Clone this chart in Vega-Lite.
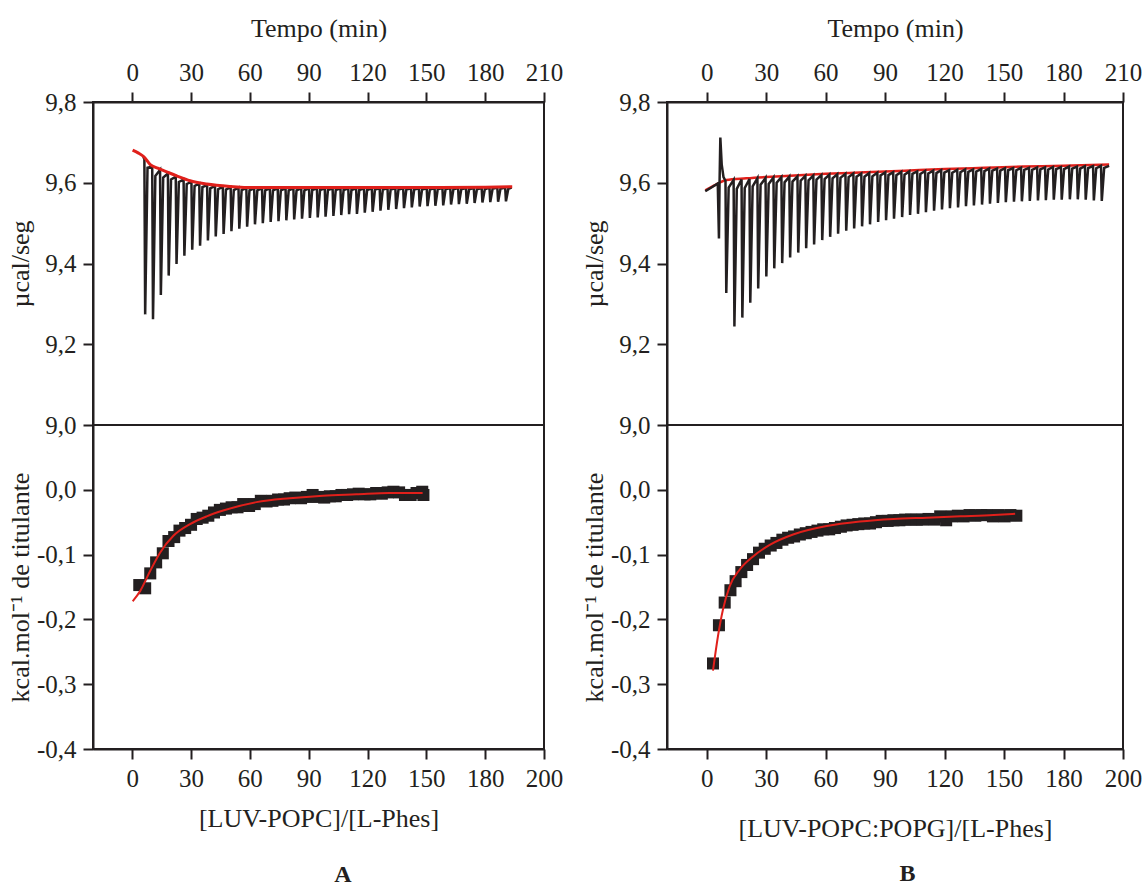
{
"$schema": "https://vega.github.io/schema/vega-lite/v6.json",
"padding": {"left": 6, "top": 14, "right": 5, "bottom": 5},
"background": "white",
"config": {
  "view": {"stroke": "#231f20", "strokeWidth": 2},
  "font": "Liberation Serif",
  "axis": {"labelFont": "Liberation Serif", "titleFont": "Liberation Serif", "labelFontSize": 25, "titleFontSize": 26, "labelColor": "#231f20", "titleColor": "#231f20", "titleFontWeight": "normal", "domainColor": "#231f20", "tickColor": "#231f20", "domainWidth": 2, "tickWidth": 2, "tickSize": 10, "grid": false, "labelPadding": 7, "titlePadding": 19, "labelFlush": false},
  "title": {"font": "Liberation Serif", "fontSize": 24, "fontWeight": "bold", "color": "#231f20"},
  "locale": {"number": {"decimal": ",", "thousands": ".", "grouping": [3], "currency": ["", ""], "minus": "-"}}
},
"datasets": {
  "rawA": [
    {"t":5.5,"v":9.664},
    {"t":6.2,"v":9.660},{"t":6.6,"v":9.274},{"t":7.8,"v":9.637},
    {"t":10.2,"v":9.640},{"t":10.6,"v":9.262},{"t":11.8,"v":9.617},
    {"t":14.2,"v":9.632},{"t":14.6,"v":9.322},{"t":15.8,"v":9.613},
    {"t":18.2,"v":9.623},{"t":18.6,"v":9.370},{"t":19.8,"v":9.608},
    {"t":22.2,"v":9.615},{"t":22.6,"v":9.399},{"t":23.8,"v":9.602},
    {"t":26.2,"v":9.608},{"t":26.6,"v":9.419},{"t":27.8,"v":9.597},
    {"t":30.2,"v":9.602},{"t":30.6,"v":9.434},{"t":31.8,"v":9.592},
    {"t":34.2,"v":9.598},{"t":34.6,"v":9.444},{"t":35.8,"v":9.589},
    {"t":38.2,"v":9.594},{"t":38.6,"v":9.457},{"t":39.8,"v":9.586},
    {"t":42.2,"v":9.592},{"t":42.6,"v":9.467},{"t":43.8,"v":9.584},
    {"t":46.2,"v":9.590},{"t":46.6,"v":9.473},{"t":47.8,"v":9.583},
    {"t":50.2,"v":9.589},{"t":50.6,"v":9.480},{"t":51.8,"v":9.582},
    {"t":54.2,"v":9.588},{"t":54.6,"v":9.486},{"t":55.8,"v":9.582},
    {"t":58.2,"v":9.587},{"t":58.6,"v":9.491},{"t":59.8,"v":9.581},
    {"t":62.2,"v":9.586},{"t":62.6,"v":9.497},{"t":63.8,"v":9.581},
    {"t":66.2,"v":9.586},{"t":66.6,"v":9.500},{"t":67.8,"v":9.581},
    {"t":70.2,"v":9.586},{"t":70.6,"v":9.503},{"t":71.8,"v":9.581},
    {"t":74.2,"v":9.586},{"t":74.6,"v":9.505},{"t":75.8,"v":9.581},
    {"t":78.2,"v":9.586},{"t":78.6,"v":9.507},{"t":79.8,"v":9.581},
    {"t":82.2,"v":9.586},{"t":82.6,"v":9.509},{"t":83.8,"v":9.581},
    {"t":86.2,"v":9.586},{"t":86.6,"v":9.511},{"t":87.8,"v":9.581},
    {"t":90.2,"v":9.586},{"t":90.6,"v":9.513},{"t":91.8,"v":9.582},
    {"t":94.2,"v":9.586},{"t":94.6,"v":9.514},{"t":95.8,"v":9.582},
    {"t":98.2,"v":9.586},{"t":98.6,"v":9.516},{"t":99.8,"v":9.582},
    {"t":102.2,"v":9.586},{"t":102.6,"v":9.518},{"t":103.8,"v":9.582},
    {"t":106.2,"v":9.586},{"t":106.6,"v":9.520},{"t":107.8,"v":9.582},
    {"t":110.2,"v":9.586},{"t":110.6,"v":9.522},{"t":111.8,"v":9.582},
    {"t":114.2,"v":9.586},{"t":114.6,"v":9.523},{"t":115.8,"v":9.582},
    {"t":118.2,"v":9.586},{"t":118.6,"v":9.526},{"t":119.8,"v":9.582},
    {"t":122.2,"v":9.586},{"t":122.6,"v":9.528},{"t":123.8,"v":9.583},
    {"t":126.2,"v":9.586},{"t":126.6,"v":9.531},{"t":127.8,"v":9.583},
    {"t":130.2,"v":9.586},{"t":130.6,"v":9.533},{"t":131.8,"v":9.583},
    {"t":134.2,"v":9.586},{"t":134.6,"v":9.535},{"t":135.8,"v":9.583},
    {"t":138.2,"v":9.586},{"t":138.6,"v":9.537},{"t":139.8,"v":9.583},
    {"t":142.2,"v":9.586},{"t":142.6,"v":9.539},{"t":143.8,"v":9.583},
    {"t":146.2,"v":9.586},{"t":146.6,"v":9.541},{"t":147.8,"v":9.583},
    {"t":150.2,"v":9.586},{"t":150.6,"v":9.542},{"t":151.8,"v":9.583},
    {"t":154.2,"v":9.587},{"t":154.6,"v":9.543},{"t":155.8,"v":9.584},
    {"t":158.2,"v":9.587},{"t":158.6,"v":9.544},{"t":159.8,"v":9.584},
    {"t":162.2,"v":9.587},{"t":162.6,"v":9.546},{"t":163.8,"v":9.584},
    {"t":166.2,"v":9.587},{"t":166.6,"v":9.547},{"t":167.8,"v":9.584},
    {"t":170.2,"v":9.587},{"t":170.6,"v":9.548},{"t":171.8,"v":9.584},
    {"t":174.2,"v":9.587},{"t":174.6,"v":9.550},{"t":175.8,"v":9.584},
    {"t":178.2,"v":9.587},{"t":178.6,"v":9.551},{"t":179.8,"v":9.584},
    {"t":182.2,"v":9.588},{"t":182.6,"v":9.552},{"t":183.8,"v":9.585},
    {"t":186.2,"v":9.588},{"t":186.6,"v":9.553},{"t":187.8,"v":9.585},
    {"t":190.2,"v":9.588},{"t":190.6,"v":9.554},{"t":191.8,"v":9.585},
    {"t":193.5,"v":9.588}
  ],
  "fitA": [
    {"t":0.2,"v":9.681},{"t":3,"v":9.674},{"t":5.8,"v":9.665},{"t":9.2,"v":9.645},{"t":13,"v":9.636},{"t":17.6,"v":9.627},{"t":22.7,"v":9.617},{"t":29.5,"v":9.605},{"t":38,"v":9.597},{"t":49.8,"v":9.591},{"t":63.4,"v":9.588},{"t":90,"v":9.588},{"t":120,"v":9.588},{"t":150,"v":9.588},{"t":180,"v":9.589},{"t":193.8,"v":9.590}
  ],
  "ptsA": [
    {"r":3.6,"h":-0.147},{"r":6.6,"h":-0.152},{"r":9.2,"h":-0.129},{"r":12.2,"h":-0.112},{"r":15.6,"h":-0.098},{"r":18.5,"h":-0.079},{"r":21.4,"h":-0.073},{"r":24.1,"h":-0.063},{"r":27,"h":-0.059},{"r":30,"h":-0.054},{"r":32.9,"h":-0.045},{"r":35.9,"h":-0.043},{"r":38.8,"h":-0.040},{"r":41.7,"h":-0.035},{"r":44.7,"h":-0.031},{"r":47.8,"h":-0.029},{"r":50.7,"h":-0.027},{"r":53.7,"h":-0.027},{"r":56.6,"h":-0.022},{"r":59.6,"h":-0.025},{"r":62.5,"h":-0.022},{"r":65.6,"h":-0.017},{"r":68.5,"h":-0.018},{"r":71.5,"h":-0.017},{"r":74.4,"h":-0.015},{"r":77.4,"h":-0.015},{"r":80.3,"h":-0.013},{"r":83.2,"h":-0.012},{"r":86.1,"h":-0.013},{"r":89.1,"h":-0.011},{"r":92,"h":-0.008},{"r":95,"h":-0.011},{"r":97.9,"h":-0.012},{"r":100.8,"h":-0.010},{"r":103.8,"h":-0.010},{"r":106.7,"h":-0.008},{"r":109.6,"h":-0.008},{"r":112.6,"h":-0.007},{"r":115.5,"h":-0.006},{"r":118.5,"h":-0.007},{"r":121.4,"h":-0.007},{"r":124.4,"h":-0.005},{"r":127.3,"h":-0.006},{"r":130.3,"h":-0.004},{"r":133.2,"h":-0.003},{"r":136.1,"h":-0.004},{"r":139.1,"h":-0.008},{"r":142,"h":-0.008},{"r":145,"h":-0.005},{"r":147.9,"h":-0.003},{"r":148.5,"h":-0.008}
  ],
  "curveA": [
    {"r":0.3,"h":-0.172},{"r":4.1,"h":-0.156},{"r":9.2,"h":-0.125},{"r":14.2,"h":-0.097},{"r":21,"h":-0.071},{"r":29.5,"h":-0.053},{"r":38,"h":-0.041},{"r":46.4,"h":-0.032},{"r":63.4,"h":-0.019},{"r":80.3,"h":-0.013},{"r":97.3,"h":-0.009},{"r":114.3,"h":-0.007},{"r":131.2,"h":-0.005},{"r":148.1,"h":-0.005}
  ],
  "rawB": [
    {"t":-0.7,"v":9.579},{"t":3,"v":9.590},{"t":5.6,"v":9.598},{"t":6.2,"v":9.462},{"t":6.5,"v":9.598},{"t":6.9,"v":9.712},{"t":7.6,"v":9.645},{"t":8.5,"v":9.614},
    {"t":9.5,"v":9.605},{"t":9.9,"v":9.327},{"t":11.1,"v":9.588},
    {"t":13.6,"v":9.607},{"t":14.0,"v":9.244},{"t":15.2,"v":9.585},
    {"t":17.6,"v":9.608},{"t":18.0,"v":9.266},{"t":19.2,"v":9.587},
    {"t":21.6,"v":9.609},{"t":22.0,"v":9.303},{"t":23.2,"v":9.591},
    {"t":25.6,"v":9.611},{"t":26.0,"v":9.338},{"t":27.2,"v":9.595},
    {"t":29.7,"v":9.612},{"t":30.1,"v":9.368},{"t":31.3,"v":9.597},
    {"t":33.7,"v":9.613},{"t":34.1,"v":9.388},{"t":35.3,"v":9.600},
    {"t":37.7,"v":9.614},{"t":38.1,"v":9.401},{"t":39.3,"v":9.601},
    {"t":41.7,"v":9.615},{"t":42.1,"v":9.415},{"t":43.3,"v":9.603},
    {"t":45.8,"v":9.616},{"t":46.2,"v":9.427},{"t":47.4,"v":9.605},
    {"t":49.8,"v":9.617},{"t":50.2,"v":9.438},{"t":51.4,"v":9.606},
    {"t":53.8,"v":9.618},{"t":54.2,"v":9.447},{"t":55.4,"v":9.608},
    {"t":57.9,"v":9.619},{"t":58.3,"v":9.458},{"t":59.5,"v":9.609},
    {"t":61.9,"v":9.620},{"t":62.3,"v":9.466},{"t":63.5,"v":9.611},
    {"t":65.9,"v":9.621},{"t":66.3,"v":9.474},{"t":67.5,"v":9.612},
    {"t":70.0,"v":9.622},{"t":70.4,"v":9.481},{"t":71.6,"v":9.614},
    {"t":74.0,"v":9.623},{"t":74.4,"v":9.487},{"t":75.6,"v":9.615},
    {"t":78.0,"v":9.623},{"t":78.4,"v":9.492},{"t":79.6,"v":9.615},
    {"t":82.0,"v":9.624},{"t":82.4,"v":9.497},{"t":83.6,"v":9.616},
    {"t":86.1,"v":9.625},{"t":86.5,"v":9.503},{"t":87.7,"v":9.618},
    {"t":90.1,"v":9.626},{"t":90.5,"v":9.507},{"t":91.7,"v":9.619},
    {"t":94.1,"v":9.626},{"t":94.5,"v":9.511},{"t":95.7,"v":9.619},
    {"t":98.2,"v":9.627},{"t":98.6,"v":9.515},{"t":99.8,"v":9.620},
    {"t":102.2,"v":9.628},{"t":102.6,"v":9.520},{"t":103.8,"v":9.622},
    {"t":106.2,"v":9.628},{"t":106.6,"v":9.523},{"t":107.8,"v":9.622},
    {"t":110.2,"v":9.629},{"t":110.6,"v":9.527},{"t":111.8,"v":9.623},
    {"t":114.3,"v":9.630},{"t":114.7,"v":9.531},{"t":115.9,"v":9.624},
    {"t":118.3,"v":9.631},{"t":118.7,"v":9.534},{"t":119.9,"v":9.625},
    {"t":122.3,"v":9.631},{"t":122.7,"v":9.537},{"t":123.9,"v":9.625},
    {"t":126.4,"v":9.632},{"t":126.8,"v":9.539},{"t":128.0,"v":9.626},
    {"t":130.4,"v":9.633},{"t":130.8,"v":9.542},{"t":132.0,"v":9.627},
    {"t":134.4,"v":9.633},{"t":134.8,"v":9.544},{"t":136.0,"v":9.628},
    {"t":138.5,"v":9.634},{"t":138.9,"v":9.546},{"t":140.1,"v":9.629},
    {"t":142.5,"v":9.635},{"t":142.9,"v":9.548},{"t":144.1,"v":9.630},
    {"t":146.5,"v":9.635},{"t":146.9,"v":9.550},{"t":148.1,"v":9.630},
    {"t":150.5,"v":9.636},{"t":150.9,"v":9.552},{"t":152.1,"v":9.631},
    {"t":154.6,"v":9.636},{"t":155.0,"v":9.553},{"t":156.2,"v":9.631},
    {"t":158.6,"v":9.637},{"t":159.0,"v":9.554},{"t":160.2,"v":9.632},
    {"t":162.6,"v":9.637},{"t":163.0,"v":9.555},{"t":164.2,"v":9.632},
    {"t":166.7,"v":9.638},{"t":167.1,"v":9.556},{"t":168.3,"v":9.633},
    {"t":170.7,"v":9.638},{"t":171.1,"v":9.557},{"t":172.3,"v":9.633},
    {"t":174.7,"v":9.639},{"t":175.1,"v":9.558},{"t":176.3,"v":9.634},
    {"t":178.7,"v":9.639},{"t":179.1,"v":9.558},{"t":180.3,"v":9.634},
    {"t":182.8,"v":9.640},{"t":183.2,"v":9.559},{"t":184.4,"v":9.635},
    {"t":186.8,"v":9.640},{"t":187.2,"v":9.559},{"t":188.4,"v":9.635},
    {"t":190.8,"v":9.641},{"t":191.2,"v":9.558},{"t":192.4,"v":9.636},
    {"t":194.9,"v":9.641},{"t":195.3,"v":9.556},{"t":196.5,"v":9.636},
    {"t":198.9,"v":9.642},{"t":199.3,"v":9.555},{"t":200.5,"v":9.637},
    {"t":203,"v":9.642}
  ],
  "fitB": [
    {"t":-0.7,"v":9.581},{"t":3,"v":9.591},{"t":6,"v":9.599},{"t":9.9,"v":9.607},{"t":20,"v":9.611},{"t":40,"v":9.617},{"t":60,"v":9.622},{"t":80,"v":9.626},{"t":100,"v":9.630},{"t":120,"v":9.634},{"t":140,"v":9.637},{"t":160,"v":9.640},{"t":180,"v":9.642},{"t":203,"v":9.645}
  ],
  "ptsB": [
    {"r":3.2,"h":-0.268},{"r":6.2,"h":-0.209},{"r":9.1,"h":-0.174},{"r":12,"h":-0.155},{"r":14.6,"h":-0.141},{"r":17.5,"h":-0.127},{"r":20.4,"h":-0.116},{"r":23.4,"h":-0.107},{"r":26.4,"h":-0.097},{"r":29.3,"h":-0.091},{"r":32.3,"h":-0.086},{"r":35.2,"h":-0.082},{"r":38.2,"h":-0.077},{"r":41.1,"h":-0.074},{"r":44.1,"h":-0.072},{"r":47,"h":-0.069},{"r":50,"h":-0.067},{"r":52.9,"h":-0.065},{"r":55.9,"h":-0.063},{"r":58.8,"h":-0.061},{"r":61.8,"h":-0.061},{"r":64.7,"h":-0.059},{"r":67.7,"h":-0.057},{"r":70.6,"h":-0.055},{"r":73.6,"h":-0.054},{"r":76.5,"h":-0.053},{"r":79.5,"h":-0.052},{"r":82.4,"h":-0.052},{"r":85.4,"h":-0.050},{"r":88.3,"h":-0.048},{"r":91.3,"h":-0.048},{"r":94.2,"h":-0.047},{"r":97.2,"h":-0.047},{"r":100.1,"h":-0.046},{"r":103.1,"h":-0.046},{"r":106,"h":-0.046},{"r":109,"h":-0.046},{"r":111.9,"h":-0.045},{"r":114.9,"h":-0.046},{"r":117.8,"h":-0.041},{"r":120.8,"h":-0.047},{"r":123.7,"h":-0.041},{"r":126.7,"h":-0.040},{"r":129.6,"h":-0.041},{"r":132.6,"h":-0.039},{"r":135.5,"h":-0.040},{"r":138.5,"h":-0.039},{"r":141.4,"h":-0.039},{"r":144.4,"h":-0.041},{"r":147.3,"h":-0.039},{"r":150.3,"h":-0.041},{"r":153.2,"h":-0.039},{"r":156.2,"h":-0.040}
  ],
  "curveB": [
    {"r":3.2,"h":-0.279},{"r":5.7,"h":-0.226},{"r":8.2,"h":-0.185},{"r":11.6,"h":-0.149},{"r":16.7,"h":-0.123},{"r":23.4,"h":-0.103},{"r":31.8,"h":-0.085},{"r":43.6,"h":-0.069},{"r":60.5,"h":-0.056},{"r":77.3,"h":-0.049},{"r":94.2,"h":-0.045},{"r":111,"h":-0.043},{"r":128,"h":-0.041},{"r":144.8,"h":-0.039},{"r":155.6,"h":-0.037}
  ]
},
"spacing": 16,
"hconcat": [
  {
    "title": {"text": "A", "orient": "bottom", "anchor": "middle", "offset": 31, "dx": 58},
    "spacing": 0,
    "bounds": "flush",
    "vconcat": [
      {
        "width": 451, "height": 323,
        "layer": [
          {"data": {"name": "rawA"}, "mark": {"type": "line", "color": "#231f20", "strokeWidth": 2.5},
           "encoding": {
             "x": {"field": "t", "type": "quantitative", "scale": {"domain": [-20, 210], "nice": false, "zero": false},
                   "axis": {"orient": "top", "values": [0,30,60,90,120,150,180,210], "title": "Tempo (min)"}},
             "y": {"field": "v", "type": "quantitative", "scale": {"domain": [9.0, 9.8], "nice": false, "zero": false},
                   "axis": {"values": [9.0,9.2,9.4,9.6,9.8], "format": ".1f", "title": "µcal/seg", "titleX": -60}}
           }},
          {"data": {"name": "fitA"}, "mark": {"type": "line", "color": "#e0201b", "strokeWidth": 3, "interpolate": "monotone"},
           "encoding": {"x": {"field": "t", "type": "quantitative"}, "y": {"field": "v", "type": "quantitative"}}}
        ]
      },
      {
        "width": 451, "height": 324,
        "layer": [
          {"data": {"name": "ptsA"}, "mark": {"type": "point", "shape": "square", "filled": true, "size": 145, "color": "#231f20", "opacity": 1},
           "encoding": {
             "x": {"field": "r", "type": "quantitative", "scale": {"domain": [-20, 210], "nice": false, "zero": false},
                   "axis": {"orient": "bottom", "values": [0,30,60,90,120,150,180,210], "labelExpr": "datum.value == 210 ? '200' : datum.label", "title": "[LUV-POPC]/[L-Phes]", "titlePadding": 14}},
             "y": {"field": "h", "type": "quantitative", "scale": {"domain": [-0.4, 0.1], "nice": false, "zero": false},
                   "axis": {"values": [-0.4,-0.3,-0.2,-0.1,0.0], "format": ".1f", "title": "kcal.mol⁻¹ de titulante", "titleX": -60}}
           }},
          {"data": {"name": "curveA"}, "mark": {"type": "line", "color": "#e0201b", "strokeWidth": 2, "interpolate": "monotone"},
           "encoding": {"x": {"field": "r", "type": "quantitative"}, "y": {"field": "h", "type": "quantitative"}}}
        ]
      }
    ]
  },
  {
    "title": {"text": "B", "orient": "bottom", "anchor": "middle", "offset": 20, "dx": 46},
    "spacing": 0,
    "bounds": "flush",
    "vconcat": [
      {
        "width": 456, "height": 323,
        "layer": [
          {"data": {"name": "fitB"}, "mark": {"type": "line", "color": "#e0201b", "strokeWidth": 2.5, "interpolate": "monotone"},
           "encoding": {
             "x": {"field": "t", "type": "quantitative", "scale": {"domain": [-20, 210], "nice": false, "zero": false},
                   "axis": {"orient": "top", "values": [0,30,60,90,120,150,180,210], "title": "Tempo (min)"}},
             "y": {"field": "v", "type": "quantitative", "scale": {"domain": [9.0, 9.8], "nice": false, "zero": false},
                   "axis": {"values": [9.0,9.2,9.4,9.6,9.8], "format": ".1f", "title": "µcal/seg", "titleX": -60}}
           }},
          {"data": {"name": "rawB"}, "mark": {"type": "line", "color": "#231f20", "strokeWidth": 2.5},
           "encoding": {"x": {"field": "t", "type": "quantitative"}, "y": {"field": "v", "type": "quantitative"}}}
        ]
      },
      {
        "width": 456, "height": 324,
        "layer": [
          {"data": {"name": "ptsB"}, "mark": {"type": "point", "shape": "square", "filled": true, "size": 145, "color": "#231f20", "opacity": 1},
           "encoding": {
             "x": {"field": "r", "type": "quantitative", "scale": {"domain": [-20, 210], "nice": false, "zero": false},
                   "axis": {"orient": "bottom", "values": [0,30,60,90,120,150,180,210], "labelExpr": "datum.value == 210 ? '200' : datum.label", "title": "[LUV-POPC:POPG]/[L-Phes]", "titlePadding": 24}},
             "y": {"field": "h", "type": "quantitative", "scale": {"domain": [-0.4, 0.1], "nice": false, "zero": false},
                   "axis": {"values": [-0.4,-0.3,-0.2,-0.1,0.0], "format": ".1f", "title": "kcal.mol⁻¹ de titulante", "titleX": -60}}
           }},
          {"data": {"name": "curveB"}, "mark": {"type": "line", "color": "#e0201b", "strokeWidth": 2, "interpolate": "monotone"},
           "encoding": {"x": {"field": "r", "type": "quantitative"}, "y": {"field": "h", "type": "quantitative"}}}
        ]
      }
    ]
  }
]
}
